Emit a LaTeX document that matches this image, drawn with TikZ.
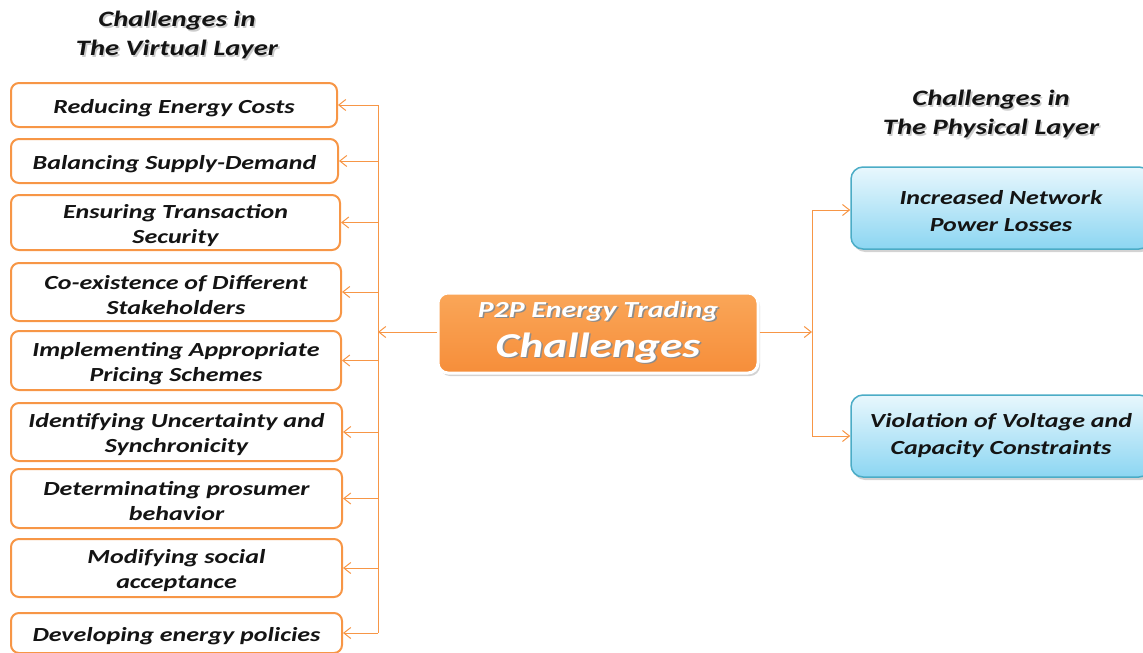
\documentclass[tikz,border=0pt]{standalone}
\usepackage{fontspec}
\setmainfont{Carlito}[FakeStretch=1.3]
\usetikzlibrary{arrows.meta,shadows}
\definecolor{orgline}{RGB}{247,150,70}
\definecolor{orgtop}{RGB}{250,166,88}
\definecolor{orgbot}{RGB}{246,142,58}
\definecolor{bluetop}{RGB}{232,247,253}
\definecolor{bluebot}{RGB}{140,214,242}
\definecolor{blueline}{RGB}{75,172,198}
\definecolor{txt}{RGB}{20,20,20}
\newcommand\shtext[2][black!45]{\makebox[0pt][l]{\hspace{1.6pt}\raisebox{-1.6pt}{\color{#1}#2}}#2}
\newcommand\up{\rule{0pt}{20pt}}
\begin{document}
\begin{tikzpicture}[x=1pt,y=-1pt,
  lbox/.style={draw=orgline,line width=2pt,rounded corners=8pt,fill=white,
    align=center,inner sep=0pt,font=\fontsize{20}{25}\selectfont\bfseries\itshape,text=txt},
  rbox/.style={draw=blueline,line width=1.5pt,rounded corners=12pt,top color=bluetop,bottom color=bluebot,
    drop shadow={shadow xshift=2pt,shadow yshift=-3pt,opacity=0.35},
    align=center,inner sep=0pt,minimum width=300,minimum height=82,
    font=\fontsize{20}{27}\selectfont\bfseries\itshape,text=txt},
  cbox/.style={draw=white,line width=3pt,rounded corners=10pt,top color=orgtop,bottom color=orgbot,
    drop shadow={shadow xshift=2pt,shadow yshift=-3pt,opacity=0.35},
    align=center,inner sep=0pt,minimum width=320,minimum height=80,text=white},
  ttl/.style={align=center,font=\fontsize{22}{29}\selectfont\bfseries\itshape,text=txt},
  conn/.style={draw=orgline,line width=1pt},
  arr/.style={conn,-{Straight Barb[length=7pt,width=11pt,line width=1pt]}}]
\useasboundingbox (0,0) rectangle (1143,653);
% titles
\node[ttl] (tv) at (177,36) {\shtext[black!20]{Challenges in}\\\shtext[black!20]{The Virtual Layer}};
\node[ttl] (tp) at (991,115) {\shtext[black!20]{Challenges in}\\\shtext[black!20]{The Physical Layer}};
% left boxes
\node[lbox,minimum width=326,minimum height=44] (b1) at (174,105) {\up Reducing Energy Costs};
\node[lbox,minimum width=327,minimum height=44] (b2) at (174.5,161) {\up Balancing Supply-Demand};
\node[lbox,minimum width=329,minimum height=55] (b3) at (175.5,222.5) {\up Ensuring Transaction\\Security};
\node[lbox,minimum width=330,minimum height=58] (b4) at (176,292) {\up Co-existence of Different\\Stakeholders};
\node[lbox,minimum width=330,minimum height=59] (b5) at (176,360.5) {\up Implementing Appropriate\\Pricing Schemes};
\node[lbox,minimum width=331,minimum height=58] (b6) at (176.5,432) {\up Identifying Uncertainty and\\Synchronicity};
\node[lbox,minimum width=331,minimum height=59] (b7) at (176.5,498.5) {\up Determinating prosumer\\behavior};
\node[lbox,minimum width=331,minimum height=58] (b8) at (176.5,568) {\up Modifying social\\acceptance};
\node[lbox,minimum width=331,minimum height=40] (b9) at (176.5,633) {\up Developing energy policies};
% center
\node[cbox] (c) at (598,333) {\fontsize{23}{28}\selectfont\bfseries\itshape\shtext{P2P Energy Trading}\\[9pt]
  \fontsize{35}{36}\selectfont\bfseries\itshape\shtext{Challenges}};
% right boxes
\node[rbox] (p1) at (1001,208) {\up Increased Network\\Power Losses};
\node[rbox] (p2) at (1001,436) {Violation of Voltage and\\Capacity Constraints};
% left connectors
\coordinate (lt) at (378,105);
\coordinate (lb) at (378,633);
\coordinate (lm) at (378,332);
\draw[conn] (lt) -- (lb);
\draw[arr] (c.west |- lm) -- (lm);
\foreach \b in {b1,b2,b3,b4,b5,b6,b7,b8,b9}{
  \draw[arr] (\b.east -| lt) -- (\b.east);
}
% right connectors
\coordinate (rt) at (812,210);
\coordinate (rb) at (812,436);
\coordinate (rm) at (812,332);
\draw[conn] (rt) -- (rb);
\draw[arr] (c.east |- rm) -- (rm);
\draw[arr] (rt) -- (p1.west |- rt);
\draw[arr] (rb) -- (p2.west |- rb);
\end{tikzpicture}
\end{document}
